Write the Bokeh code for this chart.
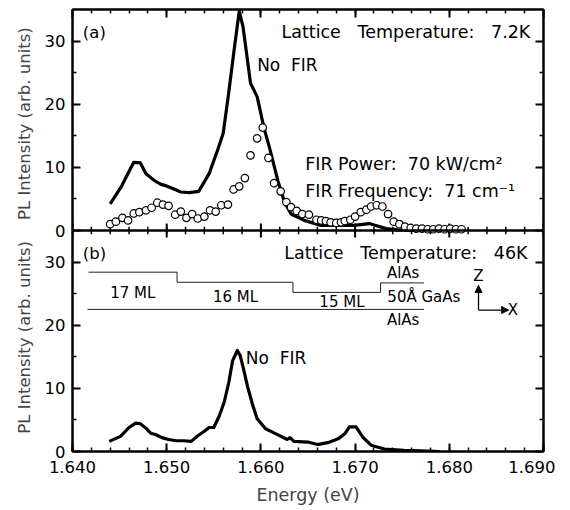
import numpy as np
from bokeh.plotting import figure
from bokeh.models import (LinearAxis, SingleIntervalTicker, FixedTicker, Range1d, Label, Arrow,
                          NormalHead, NumeralTickFormatter, CustomJSTickFormatter, Span)
from bokeh.embed import file_html
from bokeh.resources import INLINE

FONT = "DejaVu Sans"
NB = "\u00a0"

# ---------------- data ----------------
# Panel (a): lattice temperature 7.2 K, no FIR (solid line)
ea_nofir = [1.6440, 1.6452, 1.6465, 1.6472, 1.6478, 1.6487, 1.6494, 1.6499, 1.6507, 1.6515,
            1.6524, 1.6534, 1.6545, 1.6554, 1.6560, 1.6566, 1.6572, 1.6577, 1.6581, 1.6589,
            1.6596, 1.6603, 1.6609, 1.6618, 1.6625, 1.6632, 1.6646, 1.6664, 1.6682, 1.6699,
            1.6715, 1.6722, 1.6733, 1.6745, 1.6760, 1.6780]
ia_nofir = [4.2, 7.0, 10.8, 10.7, 9.0, 7.9, 7.3, 7.1, 6.6, 6.1,
            6.0, 6.2, 9.0, 12.7, 15.4, 22.0, 29.1, 34.7, 32.3, 23.3,
            21.2, 16.4, 13.2, 7.9, 4.5, 2.6, 1.6, 0.8, 0.8, 0.8,
            1.1, 0.8, 0.3, 0.1, 0.0, 0.0]

# Panel (a): with FIR (open circles)
ea_fir = [1.6440, 1.6446, 1.6453, 1.6459, 1.6465, 1.6471, 1.6478, 1.6484, 1.6490, 1.6496,
          1.6502, 1.6509, 1.6515, 1.6521, 1.6527, 1.6533, 1.6540, 1.6546, 1.6552, 1.6558,
          1.6565, 1.6571, 1.6577, 1.6583, 1.6589, 1.6596, 1.6602, 1.6608, 1.6614, 1.6621,
          1.6627, 1.6632, 1.6638, 1.6644, 1.6651, 1.6659, 1.6664, 1.6669, 1.6674, 1.6680,
          1.6685, 1.6689, 1.6695, 1.6700, 1.6706, 1.6712, 1.6717, 1.6723, 1.6729, 1.6735,
          1.6741, 1.6747, 1.6753, 1.6759, 1.6765, 1.6771, 1.6777, 1.6783, 1.6789, 1.6795,
          1.6801, 1.6807, 1.6813]
ia_fir = [1.0, 1.4, 2.0, 1.6, 2.7, 2.9, 3.2, 3.6, 4.4, 4.1,
          3.9, 2.5, 3.0, 2.0, 2.6, 1.9, 2.2, 3.2, 3.0, 4.0,
          4.1, 6.5, 7.0, 8.3, 11.9, 14.6, 16.3, 11.5, 7.5, 6.2,
          4.5, 3.7, 3.1, 2.6, 2.5, 1.7, 1.6, 1.5, 1.3, 1.2,
          1.3, 1.5, 1.7, 2.2, 2.9, 3.3, 3.8, 4.0, 3.8, 2.6,
          1.4, 1.0, 0.6, 0.4, 0.3, 0.3, 0.2, 0.2, 0.3, 0.2,
          0.3, 0.2, 0.2]

# Panel (b): lattice temperature 46 K, no FIR
eb_nofir = [1.6439, 1.6451, 1.6460, 1.6467, 1.6472, 1.6478, 1.6483, 1.6488, 1.6495, 1.6502,
            1.6510, 1.6518, 1.6526, 1.6533, 1.6540, 1.6545, 1.6550, 1.6556, 1.6561, 1.6566,
            1.6570, 1.6575, 1.6578, 1.6581, 1.6586, 1.6591, 1.6596, 1.6605, 1.6616, 1.6628,
            1.6631, 1.6635, 1.6650, 1.6660, 1.6671, 1.6682, 1.6689, 1.6694, 1.6701, 1.6708,
            1.6717, 1.6731, 1.6752, 1.6770, 1.6790]
ib_nofir = [1.6, 2.4, 3.8, 4.5, 4.4, 3.7, 2.9, 2.7, 2.2, 1.9,
            1.7, 1.7, 1.6, 2.5, 3.2, 3.8, 3.8, 5.7, 7.8, 11.0,
            14.4, 16.0, 15.2, 13.4, 10.2, 7.5, 5.2, 3.6, 2.8, 1.9,
            2.2, 1.6, 1.5, 1.1, 1.4, 2.0, 2.8, 3.9, 3.9, 2.3,
            1.0, 0.4, 0.2, 0.1, 0.0]

# Quantum-well schematic (panel b)
well_top_x = [1.6417, 1.6511, 1.6511, 1.6634, 1.6634, 1.6727, 1.6727, 1.6773]
well_top_y = [28.4, 28.4, 26.8, 26.8, 25.2, 25.2, 26.7, 26.7]
well_bot_x = [1.6416, 1.6773]
well_bot_y = [22.5, 22.5]

# axes
X_RANGE = (1.640, 1.690)
X_MAJOR = 0.010
X_MINOR_PER_MAJOR = 5
PANEL_MAX = 35                 # each panel spans 0 .. 35
Y_TICKS = [0, 10, 20, 30]
Y_MINOR = [5, 15, 25]
Y_LABEL = "PL Intensity (arb. units)"

# ---------------- figure: two stacked panels share one frame ----------------
p = figure(width=555, height=510,
           x_range=Range1d(*X_RANGE), y_range=Range1d(0, 2 * PANEL_MAX),
           output_backend="svg", toolbar_location=None,
           x_axis_location=None, y_axis_location=None,
           min_border_left=72, min_border_right=12,
           min_border_top=9, min_border_bottom=59)
p.extra_y_ranges = {"a": Range1d(-PANEL_MAX, PANEL_MAX)}   # panel (a) lives in the upper half
p.grid.visible = False
p.outline_line_color = "black"
p.outline_line_width = 2
p.background_fill_color = "white"
p.border_fill_color = "white"

all_ticks = Y_TICKS + [t + PANEL_MAX for t in Y_TICKS]
all_minor = Y_MINOR + [t + PANEL_MAX for t in Y_MINOR]
overrides = {t + PANEL_MAX: str(t) for t in Y_TICKS}


def style_axis(ax, labels=True, size="16.5px"):
    ax.axis_line_width = 2
    ax.axis_line_color = "black"
    ax.major_tick_in = 8
    ax.major_tick_out = 0
    ax.minor_tick_in = 4
    ax.minor_tick_out = 0
    ax.major_tick_line_width = 2
    ax.minor_tick_line_width = 1.5
    ax.major_tick_line_color = "black"
    ax.minor_tick_line_color = "black"
    if labels:
        ax.major_label_text_font = FONT
        ax.major_label_text_font_size = size
        ax.major_label_text_color = "black"
        ax.major_label_standoff = 7
    else:
        ax.formatter = CustomJSTickFormatter(code="return ''")
        ax.major_label_text_font_size = "1px"
        ax.major_label_text_color = None
        ax.major_label_standoff = 0
    return ax


left = style_axis(LinearAxis(ticker=FixedTicker(ticks=all_ticks, minor_ticks=all_minor),
                             major_label_overrides=overrides))
# one copy of the title centred on each panel (bottom copy = panel b, top copy = panel a)
left.axis_label = Y_LABEL + NB * 4 + Y_LABEL
left.axis_label_text_font = FONT
left.axis_label_text_font_size = "16.5px"
left.axis_label_text_font_style = "normal"
left.axis_label_standoff = 8
p.add_layout(left, "left")
p.add_layout(style_axis(LinearAxis(ticker=FixedTicker(ticks=all_ticks, minor_ticks=all_minor)),
                        labels=False), "right")
p.add_layout(style_axis(LinearAxis(ticker=SingleIntervalTicker(interval=X_MAJOR,
                                                               num_minor_ticks=X_MINOR_PER_MAJOR)),
                        labels=False), "above")
below = style_axis(LinearAxis(ticker=SingleIntervalTicker(interval=X_MAJOR,
                                                          num_minor_ticks=X_MINOR_PER_MAJOR),
                              formatter=NumeralTickFormatter(format="0.000")))
below.major_label_standoff = 9
below.axis_label = "Energy (eV)"
below.axis_label_text_font = FONT
below.axis_label_text_font_size = "17.5px"
below.axis_label_text_font_style = "normal"
below.axis_label_standoff = 9
p.add_layout(below, "below")

# divider between the panels, with crossing ticks
p.add_layout(Span(location=PANEL_MAX, dimension="width", line_color="black", line_width=2.5))
n_major = int(round((X_RANGE[1] - X_RANGE[0]) / X_MAJOR))
xmaj = np.round(np.linspace(X_RANGE[0], X_RANGE[1], n_major + 1), 4)
xmin = np.round(np.linspace(X_RANGE[0], X_RANGE[1], n_major * X_MINOR_PER_MAJOR + 1), 4)
p.segment(x0=xmin, x1=xmin, y0=PANEL_MAX - 0.6, y1=PANEL_MAX + 0.6,
          line_color="black", line_width=1.5)
p.segment(x0=xmaj, x1=xmaj, y0=PANEL_MAX - 1.1, y1=PANEL_MAX + 1.1,
          line_color="black", line_width=2)


def lab(x, y, text, size="16.5px", align="left", rng="default"):
    p.add_layout(Label(x=x, y=y, text=text, text_font=FONT, text_font_size=size,
                       text_align=align, text_baseline="middle", text_color="black",
                       y_range_name=rng))


# ---------------- panel (a) ----------------
p.line(ea_nofir, ia_nofir, y_range_name="a", line_width=3.2, line_color="black",
       line_join="round")
p.scatter(ea_fir, ia_fir, y_range_name="a", marker="circle", size=7.5, fill_color="white",
          line_color="black", line_width=1.2)
lab(1.6411, 31.4, "(a)", rng="a")
lab(1.6886, 31.4, f"Lattice{NB}{NB}{NB}Temperature:{NB}{NB}{NB}7.2K", size="17.5px",
    align="right", rng="a")
lab(1.6596, 26.2, f"No{NB}{NB}FIR", size="17px", rng="a")
lab(1.6647, 10.6, f"FIR{NB}Power:{NB}{NB}70{NB}kW/cm\u00b2", size="17.5px", rng="a")
lab(1.6647, 6.3, f"FIR{NB}Frequency:{NB}{NB}71{NB}cm\u207b\u00b9", size="17.5px", rng="a")

# ---------------- panel (b) ----------------
p.line(eb_nofir, ib_nofir, line_width=3.2, line_color="black", line_join="round")
p.line(well_top_x, well_top_y, line_width=1, line_color="#222222")
p.line(well_bot_x, well_bot_y, line_width=1, line_color="#222222")
lab(1.6411, 31.4, "(b)")
lab(1.6883, 31.4, f"Lattice{NB}{NB}{NB}Temperature:{NB}{NB}{NB}46K", size="17.5px",
    align="right")
lab(1.6584, 14.8, f"No{NB}{NB}FIR", size="17px")
lab(1.6464, 25.1, "17 ML", size="15px", align="center")
lab(1.6573, 24.4, "16 ML", size="15px", align="center")
lab(1.6686, 23.7, "15 ML", size="15px", align="center")
lab(1.6751, 28.3, "AlAs", size="15px", align="center")
lab(1.6773, 24.4, "50\u00c5 GaAs", size="15px", align="center")
lab(1.6751, 20.8, "AlAs", size="15px", align="center")
lab(1.6831, 27.8, "Z", size="15px", align="center")
lab(1.6862, 22.4, "X", size="15px", align="left")
p.add_layout(Arrow(end=NormalHead(size=7, fill_color="black", line_color="black"),
                   x_start=1.6831, y_start=22.4, x_end=1.6831, y_end=26.3,
                   line_width=1.3, line_color="black"))
p.add_layout(Arrow(end=NormalHead(size=7, fill_color="black", line_color="black"),
                   x_start=1.6831, y_start=22.4, x_end=1.6863, y_end=22.4,
                   line_width=1.3, line_color="black"))

open("out.html", "w").write(file_html(p, INLINE))
